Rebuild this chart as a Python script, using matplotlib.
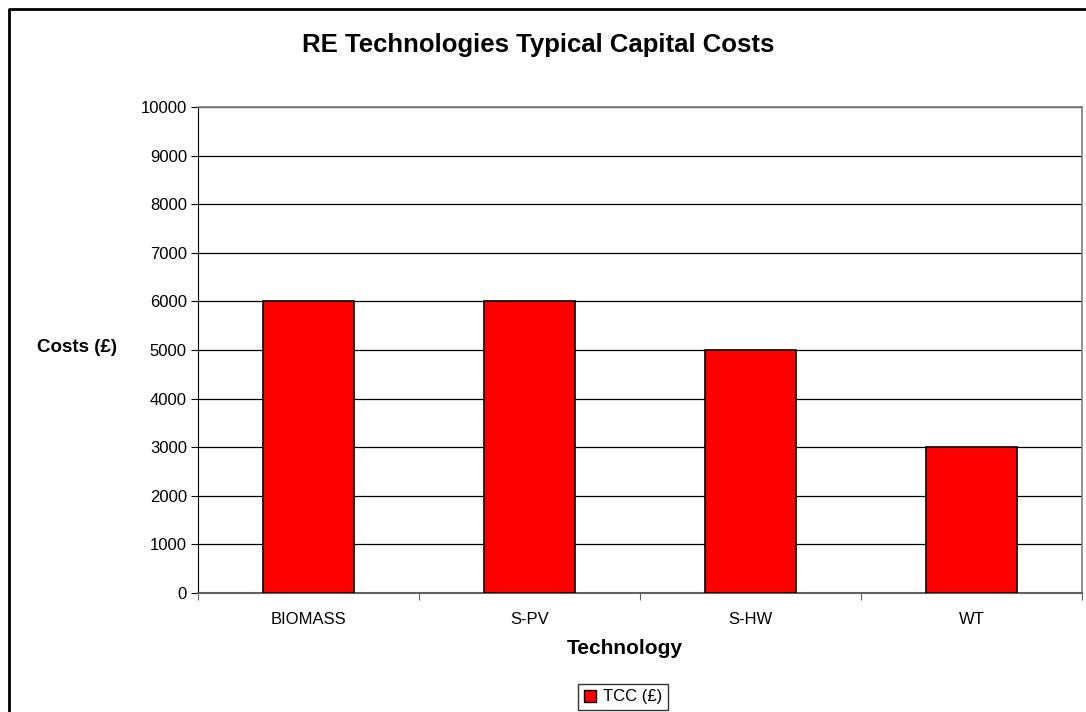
import matplotlib
matplotlib.use("Agg")
import matplotlib.pyplot as plt
from matplotlib.lines import Line2D
from matplotlib.patches import Patch
import numpy as np

# Data
technologies = ["BIOMASS", "S-PV", "S-HW", "WT"]
capital_costs = [6000, 6000, 5000, 3000]
series_name = "TCC (£)"
y_ticks = list(range(0, 10001, 1000))

plt.rcParams["font.family"] = ["Liberation Sans", "DejaVu Sans"]

W, H = 1086, 712
fig = plt.figure(figsize=(W / 100, H / 100), dpi=100)

# plot area placed in pixel terms
left, top, right, bottom = 198, 107, 1082, 593
ax = fig.add_axes([left / W, 1 - bottom / H, (right - left) / W, (bottom - top) / H])

x = np.arange(len(technologies))
ax.bar(x, capital_costs, width=0.41, color="#ff0000", edgecolor="black",
       linewidth=1.2, zorder=3, label=series_name)

ax.set_xlim(-0.5, len(technologies) - 0.5)
ax.set_ylim(0, 10000)
ax.set_yticks(y_ticks)
ax.set_yticklabels([str(v) for v in y_ticks], fontsize=12)
ax.yaxis.grid(True, color="black", linewidth=0.9, zorder=0)

# category labels between boundary ticks
ax.set_xticks(np.arange(-0.5, len(technologies)), minor=False)
ax.set_xticklabels([])
ax.set_xticks(x, minor=True)
ax.set_xticklabels(technologies, minor=True, fontsize=12)
ax.tick_params(axis="x", which="minor", length=0, pad=14)
ax.tick_params(axis="x", which="major", length=5, direction="out", color="#606060")
ax.tick_params(axis="y", length=5, direction="out", pad=3)

for side in ["top", "right"]:
    ax.spines[side].set_color("#808080")
    ax.spines[side].set_linewidth(1.2)
ax.spines["left"].set_color("black")
ax.spines["bottom"].set_color("#606060")
ax.spines["bottom"].set_linewidth(1.5)

fig.text(538 / W, 1 - 45 / H, "RE Technologies Typical Capital Costs",
         ha="center", va="center", fontsize=18.5, fontweight="bold")
fig.text(77 / W, 1 - 348 / H, "Costs (£)", ha="center", va="center",
         fontsize=13.5, fontweight="bold")
fig.text(625 / W, 1 - 648 / H, "Technology", ha="center", va="center",
         fontsize=15, fontweight="bold")

leg = fig.legend(handles=[Patch(facecolor="#ff0000", edgecolor="black", label=series_name)],
                 loc="center", bbox_to_anchor=(623 / W, 1 - 697 / H),
                 fontsize=12, frameon=True, fancybox=False, handlelength=0.7,
                 handleheight=0.7, handletextpad=0.4, borderpad=0.35)
leg.get_frame().set_edgecolor("black")
leg.get_frame().set_linewidth(1.0)

# outer chart frame (left and top edges)
fig.add_artist(Line2D([9 / W, 9 / W, 1.0], [0.0, 1 - 9 / H, 1 - 9 / H],
                      color="black", linewidth=2))

fig.savefig("out.png", dpi=100)
